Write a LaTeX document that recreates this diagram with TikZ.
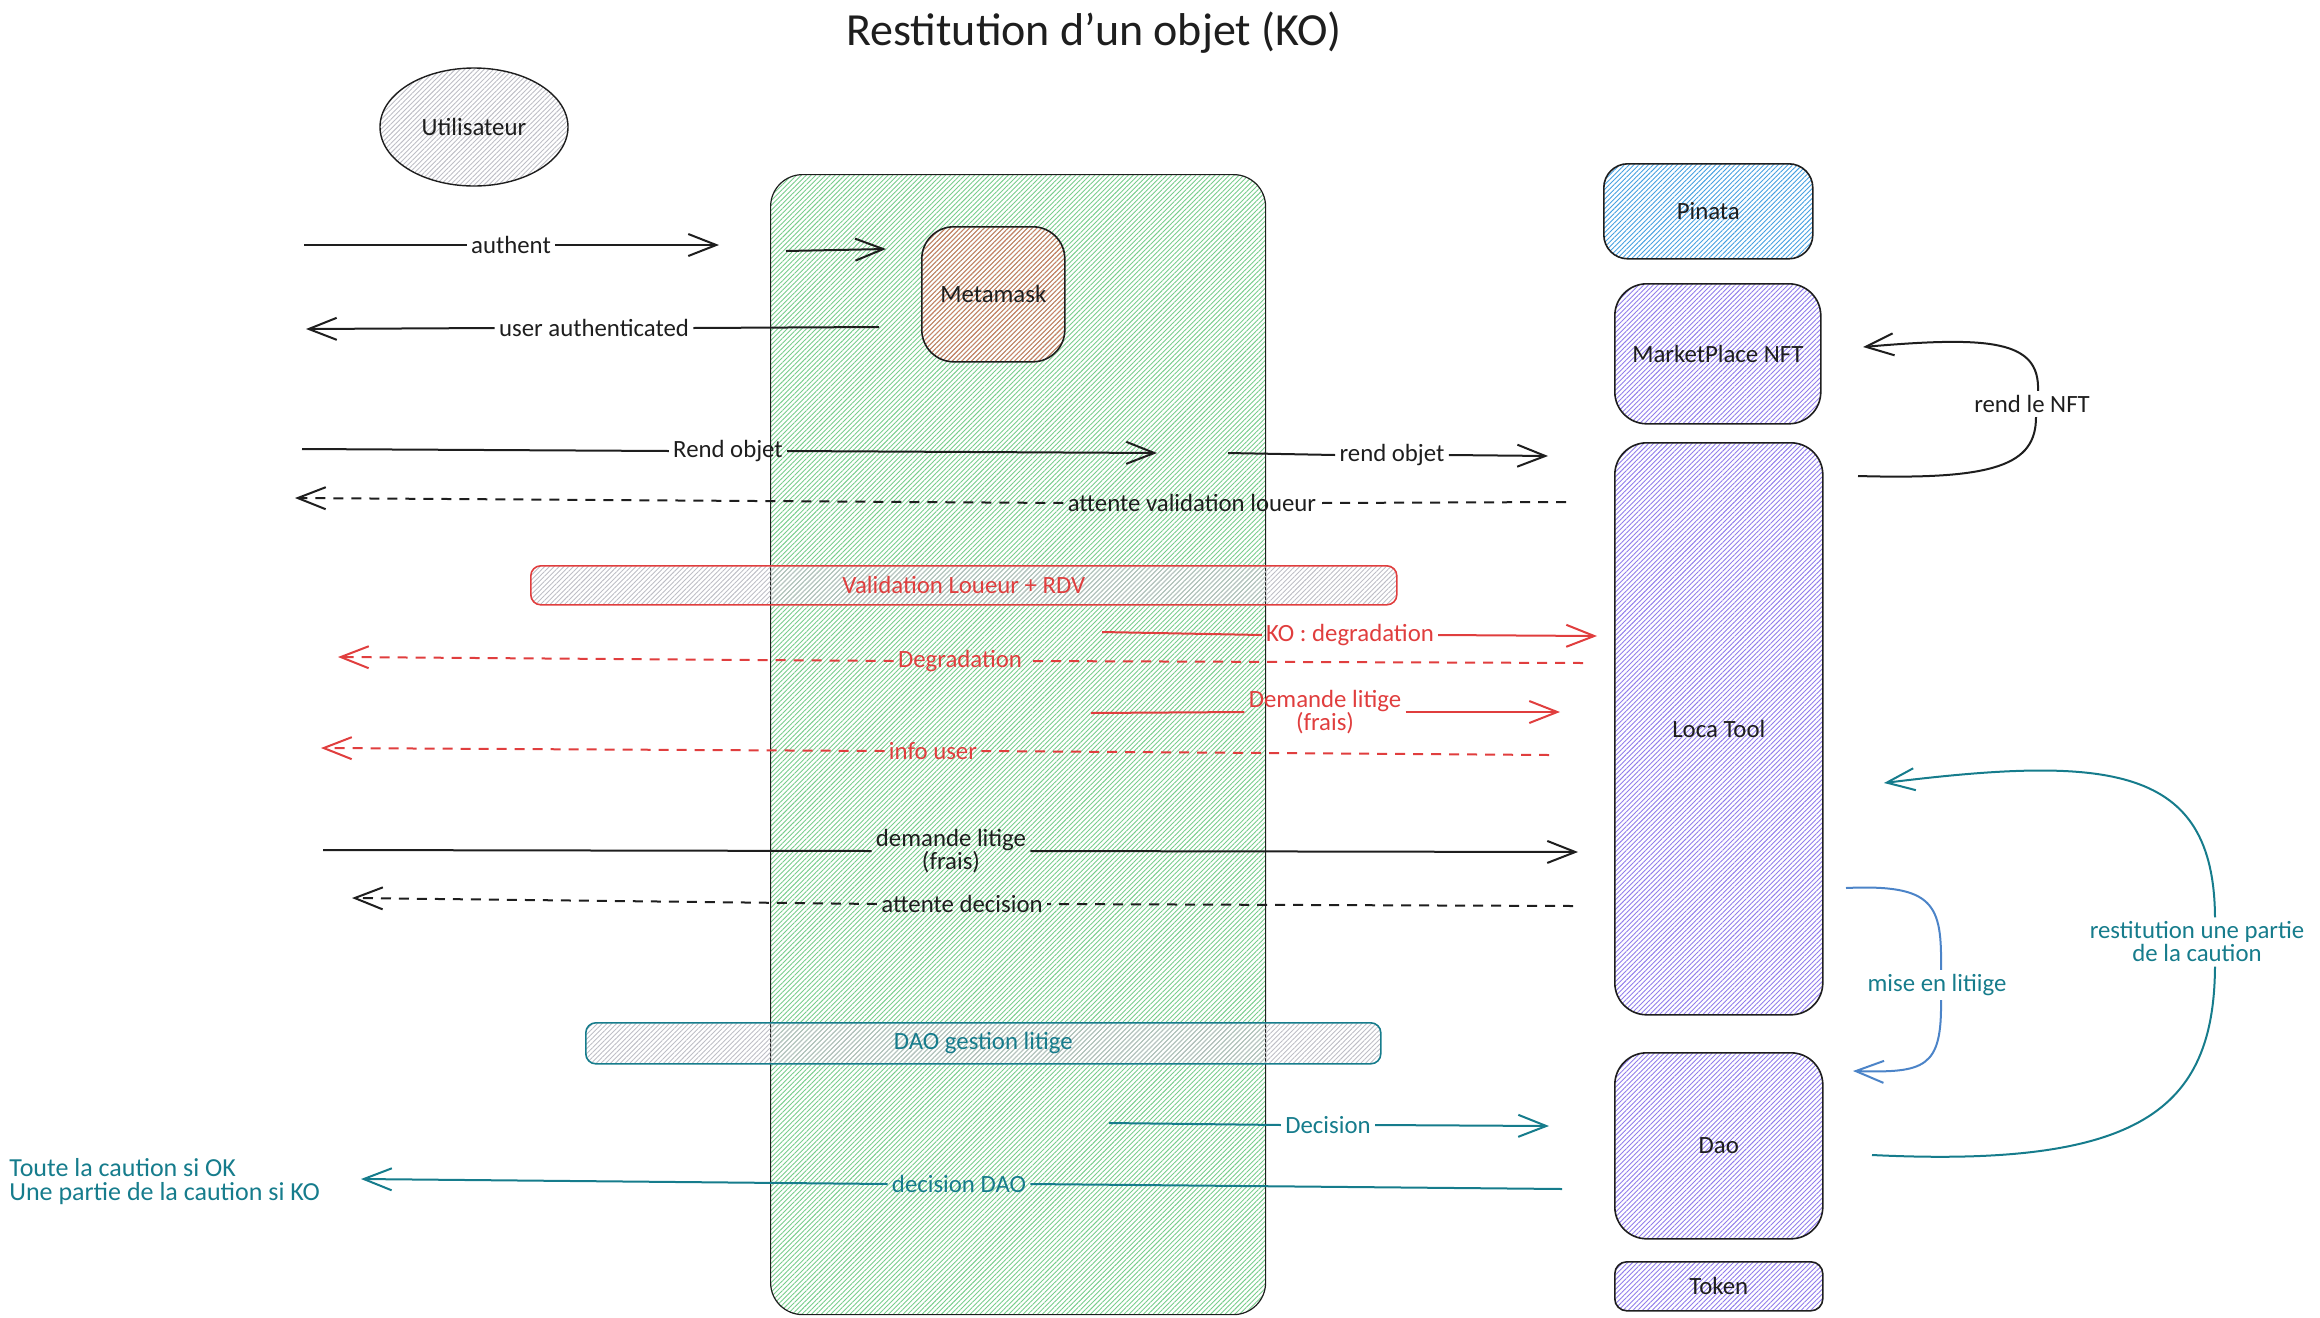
\documentclass[tikz,border=0pt]{standalone}
\usepackage{fontspec}
\setmainfont{Carlito}
\usetikzlibrary{arrows.meta,patterns.meta,shapes.geometric}
\definecolor{ink}{HTML}{1E1E1E}
\definecolor{redc}{RGB}{224,62,62}
\definecolor{tealc}{RGB}{22,124,140}
\definecolor{bluec}{RGB}{76,132,200}
\definecolor{hgreen}{RGB}{120,205,140}
\definecolor{hred}{RGB}{212,120,100}
\definecolor{hblue}{RGB}{70,160,225}
\definecolor{hpurple}{RGB}{145,125,235}
\definecolor{hgray}{RGB}{190,190,198}
\tikzset{
  hatch/.style={pattern={Lines[angle=45,distance=1.7pt,line width=0.45pt]},pattern color=#1},
  txt/.style={font=\fontsize{12.4}{11.5}\selectfont},
  box/.style={draw=ink,line width=0.8pt,rounded corners=16pt,anchor=north west,inner sep=0pt,text=ink,txt},
  lbl/.style={inner sep=2pt,txt,align=center},
  tip/.style={-{Straight Barb[length=14pt,width=11pt]}},
  ln/.style={line width=1pt},
  dsh/.style={dash pattern=on 5pt off 4pt},
}
\begin{document}
\begin{tikzpicture}[x=0.5pt,y=-0.5pt]
\useasboundingbox (0,0) rectangle (2320,1318);
\node[font=\fontsize{23}{27}\selectfont,text=ink] (title) at (1094,33) {Restitution d'un objet (KO)};

% actors / boxes
\node[ellipse,draw=ink,line width=0.7pt,hatch=hgray,minimum width=94pt,minimum height=59pt,inner sep=0pt,txt,text=ink] (user) at (474,127) {Utilisateur};
\node[box,hatch=hgreen,line width=0.6pt,minimum width=247.5pt,minimum height=570pt] (dapp) at (770,174) {};
\node[box,hatch=hred,minimum width=71.5pt,minimum height=67.5pt] (meta) at (921,226) {Metamask};
\node[box,hatch=hblue,rounded corners=12pt,minimum width=104.5pt,minimum height=47.5pt] (pinata) at (1603,163) {Pinata};
\node[box,hatch=hpurple,minimum width=103pt,minimum height=70pt] (market) at (1614,283) {MarketPlace NFT};
\node[box,hatch=hpurple,minimum width=104pt,minimum height=286pt] (loca) at (1614,442) {Loca Tool};
\node[box,hatch=hpurple,minimum width=104pt,minimum height=93pt] (dao) at (1614,1052) {Dao};
\node[box,hatch=hpurple,rounded corners=6pt,minimum width=104pt,minimum height=24.5pt] (token) at (1614,1261) {Token};

% bars
\node[box,draw=redc,text=redc,hatch=hgray,rounded corners=5pt,minimum width=433pt,minimum height=19.5pt] (valid) at (530,565) {Validation Loueur + RDV};
\node[box,draw=tealc,text=tealc,hatch=hgray,rounded corners=5pt,minimum width=397.5pt,minimum height=20.5pt] (daog) at (585,1022) {DAO gestion litige};

% authent
\coordinate (a1s) at (304,245); \coordinate (a1e) at (719,245);
\node[lbl,text=ink] (a1l) at (511,245) {authent};
\draw[ln,ink] (a1s) -- (a1l.west); \draw[ln,ink,tip] (a1l.east) -- (a1e);
% into metamask
\coordinate (a2s) at (786,251); \coordinate (a2e) at (886,249);
\draw[ln,ink,tip] (a2s) -- (a2e);
% user authenticated
\coordinate (a3s) at (879,327); \coordinate (a3e) at (306,329);
\node[lbl,text=ink] (a3l) at (594,328) {user authenticated};
\draw[ln,ink] (a3s) -- (a3l.east); \draw[ln,ink,tip] (a3l.west) -- (a3e);
% Rend objet
\coordinate (a4s) at (302,449); \coordinate (a4e) at (1157,453);
\node[lbl,text=ink] (a4l) at (728,451) {Rend objet};
\draw[ln,ink] (a4s) -- (a4l.west); \draw[ln,ink,tip] (a4l.east) -- (a4e);
% rend objet
\coordinate (a5s) at (1228,453); \coordinate (a5e) at (1548,456);
\node[lbl,text=ink] (a5l) at (1392,455) {rend objet};
\draw[ln,ink] (a5s) -- (a5l.west); \draw[ln,ink,tip] (a5l.east) -- (a5e);
% attente validation loueur
\coordinate (a6s) at (1566,502); \coordinate (a6e) at (295,498);
\node[lbl,text=ink] (a6l) at (1192,503) {attente validation loueur};
\draw[ln,ink,dsh] (a6s) -- (a6l.east); \draw[ln,ink,dsh,tip] (a6l.west) -- (a6e);

% KO : degradation
\coordinate (b1s) at (1102,632); \coordinate (b1e) at (1597,636);
\node[lbl,text=redc] (b1l) at (1350,635) {KO : degradation};
\draw[ln,redc] (b1s) -- (b1l.west); \draw[ln,redc,tip] (b1l.east) -- (b1e);
% Degradation
\coordinate (b2s) at (1583,663); \coordinate (b2e) at (338,657);
\node[lbl,text=redc] (b2l) at (960,661) {Degradation};
\draw[ln,redc,dsh] (b2s) -- (b2l.east); \draw[ln,redc,dsh,tip] (b2l.west) -- (b2e);
% Demande litige (frais)
\coordinate (b3s) at (1091,713); \coordinate (b3e) at (1560,712);
\node[lbl,text=redc] (b3l) at (1325,712) {Demande litige\\(frais)};
\draw[ln,redc] (b3s) -- (b3l.west); \draw[ln,redc,tip] (b3l.east) -- (b3e);
% info user
\coordinate (b4s) at (1549,755); \coordinate (b4e) at (321,748);
\node[lbl,text=redc] (b4l) at (933,751) {info user};
\draw[ln,redc,dsh] (b4s) -- (b4l.east); \draw[ln,redc,dsh,tip] (b4l.west) -- (b4e);

% demande litige (frais)
\coordinate (c1s) at (323,850); \coordinate (c1e) at (1578,852);
\node[lbl,text=ink] (c1l) at (951,851) {demande litige\\(frais)};
\draw[ln,ink] (c1s) -- (c1l.west); \draw[ln,ink,tip] (c1l.east) -- (c1e);
% attente decision
\coordinate (c2s) at (1573,906); \coordinate (c2e) at (352,898);
\node[lbl,text=ink] (c2l) at (962,904) {attente decision};
\draw[ln,ink,dsh] (c2s) -- (c2l.east); \draw[ln,ink,dsh,tip] (c2l.west) -- (c2e);

% Decision
\coordinate (d1s) at (1109,1123); \coordinate (d1e) at (1549,1126);
\node[lbl,text=tealc] (d1l) at (1328,1125) {Decision};
\draw[ln,tealc] (d1s) -- (d1l.west); \draw[ln,tealc,tip] (d1l.east) -- (d1e);
% decision DAO
\coordinate (d2s) at (1562,1189); \coordinate (d2e) at (361,1179);
\node[lbl,text=tealc] (d2l) at (959,1184) {decision DAO};
\draw[ln,tealc] (d2s) -- (d2l.east); \draw[ln,tealc,tip] (d2l.west) -- (d2e);
\node[anchor=west,align=left,inner sep=0pt,font=\fontsize{13}{12}\selectfont,text=tealc] (note) at (9,1182) {Toute la caution si OK\\Une partie de la caution si KO};

% rend le NFT
\coordinate (n1s) at (1858,476); \coordinate (n1e) at (1863,347);
\node[lbl,text=ink] (nftl) at (2032,404) {rend le NFT};
\draw[ln,ink] (n1s) .. controls (1995,480) and (2036,465) .. ([xshift=2pt]nftl.south);
\draw[ln,ink,tip] ([xshift=3pt]nftl.north) .. controls (2040,340) and (1990,336) .. (n1e);

% mise en litiige
\coordinate (m1s) at (1846,888); \coordinate (m1e) at (1853,1071);
\node[lbl,text=tealc] (misel) at (1937,985) {mise en litiige};
\draw[ln,bluec] (m1s) .. controls (1935,884) and (1942,905) .. ([xshift=2pt]misel.north);
\draw[ln,bluec,tip] ([xshift=2pt]misel.south) .. controls (1942,1068) and (1925,1073) .. (m1e);

% restitution une partie de la caution
\coordinate (r1s) at (1872,1155); \coordinate (r1e) at (1884,783);
\node[lbl,text=tealc] (restl) at (2197,942) {restitution une partie\\de la caution};
\draw[ln,tealc] (r1s) .. controls (2140,1168) and (2214,1110) .. ([xshift=9pt]restl.south);
\draw[ln,tealc,tip] ([xshift=9pt]restl.north) .. controls (2214,765) and (2110,755) .. (r1e);
\end{tikzpicture}
\end{document}
